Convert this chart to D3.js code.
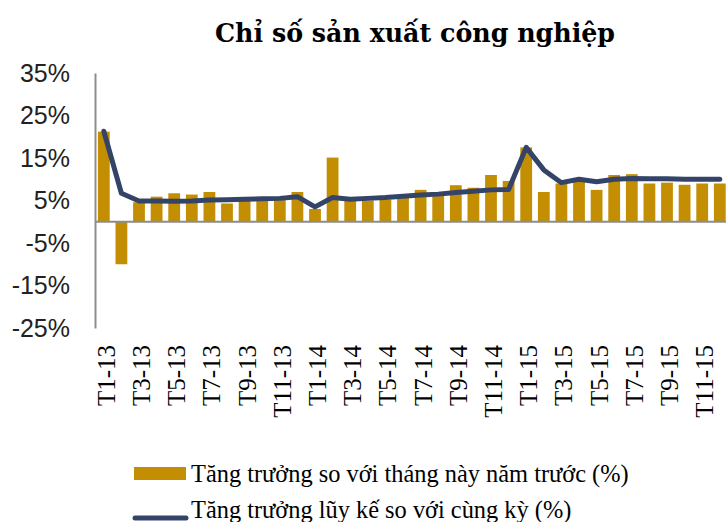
<!DOCTYPE html>
<html>
<head>
<meta charset="utf-8">
<script src="https://cdn.jsdelivr.net/npm/d3@7"></script>
<style>
	body { margin: 0; background: #fff; }
	svg { display: block; }
</style>
</head>
<body>
<div id="chart"></div>
<script>
"use strict";

// categories: months T1-13 .. T12-15
const months = [];
for (const yr of ["13", "14", "15"]) {
	for (let m = 1; m <= 12; m++) months.push("T" + m + "-" + yr);
}

// monthly growth vs same month last year (%)
const monthlyGrowth = [
	21.2, -10.0, 4.6, 5.9, 6.7, 6.4, 7.0, 4.3, 5.0, 5.1, 5.3, 7.0,
	3.0, 15.1, 5.0, 5.0, 5.2, 5.6, 7.5, 6.3, 8.6, 8.0, 11.0, 9.6,
	17.5, 7.0, 9.0, 9.4, 7.5, 11.0, 11.2, 9.0, 9.2, 8.7, 9.0, 9.0
];

// cumulative growth vs same period (%)
const cumulativeGrowth = [
	21.3, 6.7, 4.9, 4.9, 4.8, 4.9, 5.1, 5.2, 5.3, 5.4, 5.5, 5.9,
	3.5, 5.7, 5.3, 5.5, 5.7, 6.0, 6.3, 6.5, 6.9, 7.2, 7.5, 7.6,
	17.5, 12.2, 9.2, 10.0, 9.4, 10.0, 10.2, 10.1, 10.1, 10.0, 10.0, 10.0
];

const yTicks = [-25, -15, -5, 5, 15, 25, 35];

const title = "Chỉ số sản xuất công nghiệp";
const legendLabels = [
	"Tăng trưởng so với tháng này năm trước (%)",
	"Tăng trưởng lũy kế so với cùng kỳ (%)"
];

const barColor = "#c48e03";
const lineColor = "#344468";
const axisColor = "#8c8c8c";

const width = 726, height = 522;

const svg = d3.select("#chart")
	.append("svg")
	.attr("width", width)
	.attr("height", height);

const x = d3.scaleBand()
	.domain(months)
	.range([95, 728.6])
	.paddingInner(0.33)
	.paddingOuter(0.165);

const y = d3.scaleLinear()
	.domain([-25, 35])
	.range([328, 73]);

// title
svg.append("text")
	.attr("x", 415)
	.attr("y", 42)
	.attr("text-anchor", "middle")
	.style("font-family", "'DejaVu Serif', serif")
	.style("font-weight", "bold")
	.style("font-size", "25.3px")
	.style("fill", "#000")
	.text(title);

// y axis labels
const yAxis = d3.axisLeft(y)
	.tickValues(yTicks)
	.tickSize(0)
	.tickPadding(25)
	.tickFormat(d => d + "%");

const gy = svg.append("g")
	.attr("transform", "translate(95,0)")
	.call(yAxis);
gy.select(".domain")
	.attr("stroke", axisColor)
	.attr("stroke-width", 2);
gy.selectAll("text")
	.style("font-family", "'Liberation Sans', sans-serif")
	.style("font-size", "25px")
	.style("fill", "#222");

// bars
svg.append("g")
	.selectAll("rect")
	.data(monthlyGrowth)
	.enter().append("rect")
	.attr("x", (d, i) => x(months[i]))
	.attr("width", x.bandwidth())
	.attr("y", d => y(Math.max(0, d)))
	.attr("height", d => Math.abs(y(d) - y(0)))
	.style("fill", barColor);

// zero line
svg.append("line")
	.attr("x1", 95)
	.attr("x2", width)
	.attr("y1", y(0))
	.attr("y2", y(0))
	.style("stroke", axisColor)
	.style("stroke-width", 2);

// cumulative line
const line = d3.line()
	.x((d, i) => x(months[i]) + x.bandwidth() / 2)
	.y(d => y(d));

svg.append("path")
	.datum(cumulativeGrowth)
	.attr("d", line)
	.style("fill", "none")
	.style("stroke", lineColor)
	.style("stroke-width", 5)
	.style("stroke-linejoin", "round")
	.style("stroke-linecap", "round");

// x labels every second month, rotated
svg.append("g")
	.selectAll("text")
	.data(months.filter((d, i) => i % 2 === 0))
	.enter().append("text")
	.attr("transform", d => `translate(${x(d) + x.bandwidth() / 2 + 11},345) rotate(-90)`)
	.attr("text-anchor", "end")
	.style("font-family", "'Liberation Serif', serif")
	.style("font-size", "25px")
	.style("fill", "#000")
	.text(d => d);

// legend
const legend = svg.append("g");
legend.append("rect")
	.attr("x", 134)
	.attr("y", 467)
	.attr("width", 52)
	.attr("height", 13)
	.style("fill", barColor);
legend.append("line")
	.attr("x1", 135)
	.attr("x2", 186)
	.attr("y1", 518)
	.attr("y2", 518)
	.style("stroke", lineColor)
	.style("stroke-width", 5)
	.style("stroke-linecap", "round");
legend.selectAll("text")
	.data(legendLabels)
	.enter().append("text")
	.attr("x", 191)
	.attr("y", (d, i) => 482 + i * 36)
	.style("font-family", "'Liberation Serif', serif")
	.style("font-size", "24.4px")
	.style("fill", "#000")
	.text(d => d);
</script>
</body>
</html>
